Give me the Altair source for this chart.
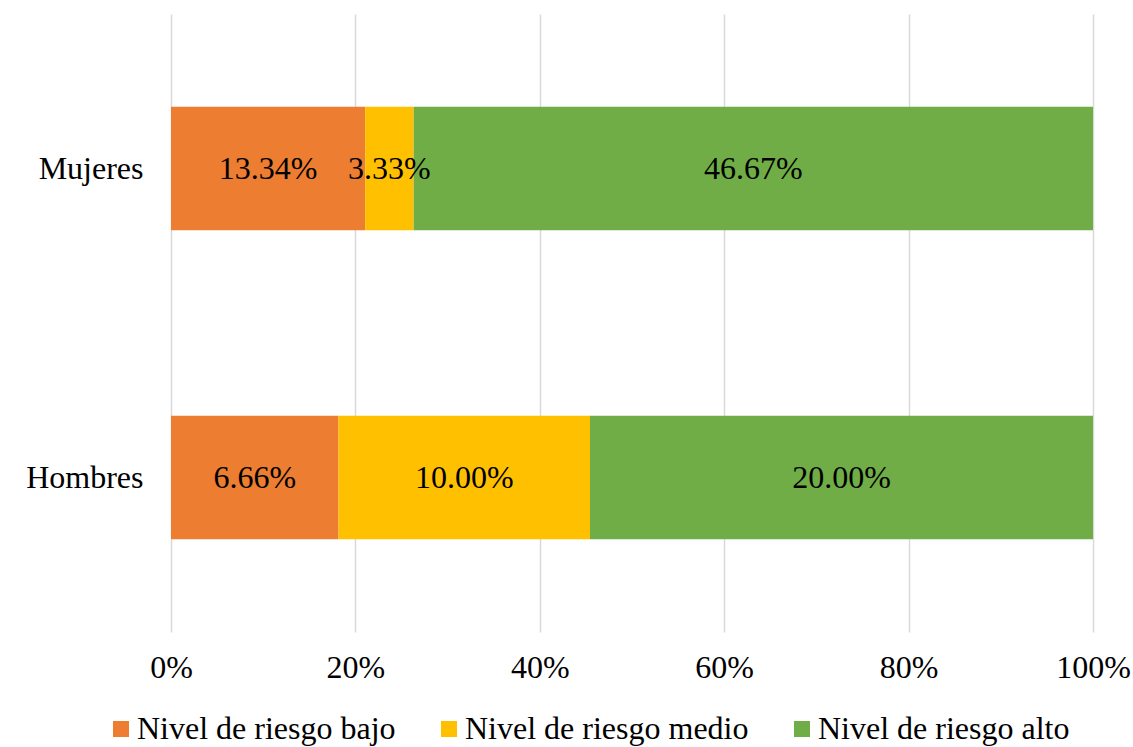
import altair as alt
import pandas as pd

groups = ["Mujeres", "Mujeres", "Mujeres", "Hombres", "Hombres", "Hombres"]
levels = ["Nivel de riesgo bajo", "Nivel de riesgo medio", "Nivel de riesgo alto"] * 2
values = [13.34, 3.33, 46.67, 6.66, 10.00, 20.00]
order_idx = [0, 1, 2, 0, 1, 2]

level_domain = ["Nivel de riesgo bajo", "Nivel de riesgo medio", "Nivel de riesgo alto"]
level_colors = ["#ED7D31", "#FFC000", "#70AD47"]
group_order = ["Mujeres", "Hombres"]

df = pd.DataFrame({"group": groups, "level": levels, "value": values, "idx": order_idx})

FONT = "Liberation Serif"
FS = 32

base = alt.Chart(df).transform_stack(
    stack="value",
    groupby=["group"],
    as_=["x0", "x1"],
    offset="normalize",
    sort=[alt.SortField("idx", order="ascending")],
).transform_calculate(
    mid="(datum.x0 + datum.x1) / 2",
    label="format(datum.value, '.2f') + '%'",
)

y_enc = alt.Y(
    "group:N",
    sort=group_order,
    title=None,
    scale=alt.Scale(paddingInner=0.6, paddingOuter=0.3),
    axis=alt.Axis(
        labelFont=FONT, labelFontSize=FS, labelColor="black",
        ticks=False, domain=False, labelPadding=28, grid=False,
    ),
)

bars = base.mark_bar().encode(
    x=alt.X(
        "x0:Q",
        title=None,
        scale=alt.Scale(domain=[0, 1], nice=False),
        axis=alt.Axis(
            format="%", values=[0, 0.2, 0.4, 0.6, 0.8, 1.0],
            labelFont=FONT, labelFontSize=FS, labelColor="black",
            labelFlush=False,
            ticks=False, domain=False, grid=True,
            gridColor="#d9d9d9", gridWidth=1.5, labelPadding=20,
        ),
    ),
    x2="x1:Q",
    y=y_enc,
    color=alt.Color(
        "level:N",
        scale=alt.Scale(domain=level_domain, range=level_colors),
        title=None,
        legend=alt.Legend(
            orient="none", direction="horizontal",
            legendX=-66, legendY=699, padding=0,
            labelFont=FONT, labelFontSize=FS, labelColor="black",
            symbolType="square", symbolSize=256, symbolStrokeWidth=0,
            columnPadding=37, labelOffset=0, labelLimit=400,
        ),
    ),
)

texts = base.mark_text(font=FONT, fontSize=FS, color="black").encode(
    x=alt.X("mid:Q"),
    y=alt.Y("group:N", sort=group_order),
    text="label:N",
)

chart = alt.layer(bars, texts).properties(
    width=922, height=618,
    autosize=alt.AutoSizeParams(type="none"),
    padding={"left": 171, "top": 14, "right": 40, "bottom": 115},
).configure(background="white").configure_view(stroke=None)

chart.save("out.html", embed_options={"renderer": "svg", "actions": False})
